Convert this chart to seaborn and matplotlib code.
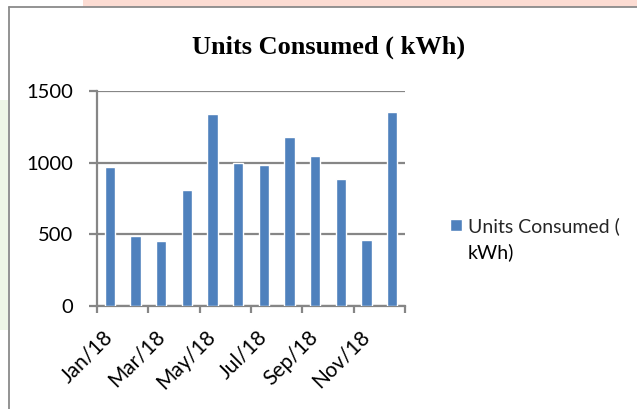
import matplotlib
matplotlib.use("Agg")
import matplotlib.pyplot as plt
import seaborn as sns
import pandas as pd
from matplotlib.lines import Line2D
from matplotlib.patches import Rectangle

months = ["Jan/18", "Feb/18", "Mar/18", "Apr/18", "May/18", "Jun/18",
          "Jul/18", "Aug/18", "Sep/18", "Oct/18", "Nov/18", "Dec/18"]
units = [972, 490, 453, 809, 1340, 1000, 984, 1179, 1047, 886, 460, 1352]
yticks = [0, 500, 1000, 1500]
title = "Units Consumed ( kWh)"
series_label = ["Units Consumed (", "kWh)"]

sns.set_theme(style="white")
plt.rcParams["font.family"] = ["Lato", "DejaVu Sans"]

W, H = 637, 409
fig = plt.figure(figsize=(W / 100, H / 100), dpi=100)
fig.patch.set_facecolor("white")

# faint watermark colours outside the chart frame (thin strips)
fig.add_artist(Rectangle((83 / W, 1 - 7 / H), 1 - 83 / W, 7 / H, transform=fig.transFigure,
                         facecolor="#fcdcd3", edgecolor="none", zorder=-5))
fig.add_artist(Rectangle((0, 1 - 330 / H), 8 / W, 230 / H, transform=fig.transFigure,
                         facecolor="#eef6e6", edgecolor="none", zorder=-5))

# chart frame (left and top edges visible)
fig.add_artist(Line2D([9 / W, 9 / W], [0, 1 - 7 / H], transform=fig.transFigure,
                      color="#8a8a8a", lw=1.3))
fig.add_artist(Line2D([9 / W, 1], [1 - 7 / H, 1 - 7 / H], transform=fig.transFigure,
                      color="#8a8a8a", lw=1.3))

ax = fig.add_axes([97 / W, 1 - 306 / H, 308 / W, 215 / H])
df = pd.DataFrame({"month": months, "units": units})
sns.barplot(data=df, x="month", y="units", color="#4F81BD", width=0.39,
            saturation=1, ax=ax, label=series_label[0], zorder=3)

grey = "#868686"
ax.set_xlim(-0.5, len(months) - 0.5)
ax.set_ylim(0, 1500)
ax.set_yticks(yticks)
ax.set_yticklabels([str(v) for v in yticks])
ax.yaxis.grid(True, color=grey, lw=1.6, zorder=0)
ax.xaxis.grid(False)
for s in ["top", "right"]:
    ax.spines[s].set_visible(False)
for s in ["left", "bottom"]:
    ax.spines[s].set_color(grey)
    ax.spines[s].set_linewidth(1.6)
ax.set_xlabel("")
ax.set_ylabel("")

# major ticks at category pair boundaries, labels on every other month
ax.set_xticks([i - 0.5 for i in range(0, len(months) + 1, 2)])
ax.set_xticklabels([])
ax.set_xticks(list(range(0, len(months), 2)),
              [months[i] for i in range(0, len(months), 2)], minor=True)
ax.tick_params(axis="x", which="major", length=5, width=1.6, color=grey, direction="out")
ax.tick_params(axis="x", which="minor", length=0, pad=20, labelsize=15, labelcolor="black")
for lbl in ax.get_xticklabels(minor=True):
    lbl.set_rotation(45)
    lbl.set_ha("right")
    lbl.set_va("center")
    lbl.set_rotation_mode("anchor")
ax.tick_params(axis="y", which="major", length=6, width=1.6, color=grey, direction="out",
               pad=11, labelsize=14.5, labelcolor="black")
ax.tick_params(bottom=True, left=True)

fig.text(329 / W, 1 - 47 / H, title, ha="center", va="center",
         fontsize=19, fontweight="bold", family="Liberation Serif", color="black")

leg = ax.legend(loc="center left", bbox_to_anchor=(450 / W, 1 - 226 / H),
                bbox_transform=fig.transFigure, frameon=False, fontsize=14,
                handlelength=0.62, handleheight=0.62, handletextpad=0.3, borderpad=0,
                borderaxespad=0)
fig.text(468 / W, 1 - 252 / H, series_label[1], ha="left", va="center",
         fontsize=14, color="black")

fig.savefig("out.png", dpi=100, facecolor=fig.get_facecolor())
